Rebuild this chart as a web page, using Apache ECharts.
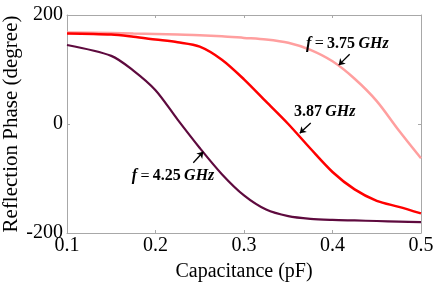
<!DOCTYPE html>
<html>
<head>
<meta charset="utf-8">
<script src="https://cdn.jsdelivr.net/npm/echarts@6/dist/echarts.min.js"></script>
<style>html,body{margin:0;padding:0;background:#fff;}#c{width:436px;height:289px;}</style>
</head>
<body>
<div id="c"></div>
<script>
// capacitance (pF)
var capacitance = [0.1, 0.15, 0.175, 0.2, 0.225, 0.25, 0.275, 0.3, 0.325, 0.35, 0.375, 0.4, 0.425, 0.45, 0.475, 0.5];
// reflection phase (degree)
var phase375 = [168, 167, 166, 165, 164, 163, 161, 158, 155, 149, 136, 115, 83, 42, -12, -63];
var phase387 = [166, 164, 160, 155, 150, 142, 118, 82, 41, 0, -45, -88, -120, -141, -152, -164];
var phase425 = [145, 125, 98, 62, 8, -44, -92, -131, -157, -169, -174, -176, -177, -178, -179, -180];
var xTicks = [0.1, 0.2, 0.3, 0.4, 0.5];
var yTicks = [-200, 0, 200];
// annotations: label position, arrow tail, arrow head (data coords)
var labelPos375 = [0.4168, 147], arrowTail375 = [0.4194, 128], arrowHead375 = [0.407, 108];
var labelPos387 = [0.3912, 23], arrowTail387 = [0.3754, 2], arrowHead387 = [0.363, -17];
var labelPos425 = [0.2198, -96], arrowTail425 = [0.2427, -71], arrowHead425 = [0.254, -51];

function pairs(xs, ys) { return xs.map(function (x, i) { return [x, ys[i]]; }); }

var rich = {
  i: { fontFamily: 'Liberation Serif', fontStyle: 'italic', fontWeight: 'bold', fontSize: 16, color: '#000' },
  n: { fontFamily: 'Liberation Serif', fontWeight: 'bold', fontSize: 16, color: '#000' },
  e: { fontFamily: 'Liberation Serif', fontSize: 16, color: '#000' }
};
function ann(pos, tail, head, text) {
  return {
    markPoint: {
      silent: true, animation: false,
      data: [{ coord: pos, symbol: 'circle', symbolSize: 0,
        label: { show: true, position: 'inside', formatter: text, rich: rich } }]
    },
    markLine: {
      silent: true, animation: false,
      lineStyle: { color: '#000', width: 1.3, type: 'solid' },
      label: { show: false },
      symbolSize: 6,
      data: [[{ coord: tail, symbol: 'none' }, { coord: head, symbol: 'arrow' }]]
    }
  };
}

function mk(name, data, color, width, a) {
  var s = {
    name: name, type: 'line', data: pairs(capacitance, data), showSymbol: false,
    smooth: 0.3,
    lineStyle: { color: color, width: width }, itemStyle: { color: color },
    xAxisIndex: 0, yAxisIndex: 0
  };
  s.markPoint = a.markPoint; s.markLine = a.markLine;
  return s;
}

var axisGray = '#a8a8a8';
var fontF = 'Liberation Serif';
var chart = echarts.init(document.getElementById('c'));
chart.setOption({
  animation: false,
  backgroundColor: '#fff',
  grid: { left: 67, right: 15, top: 15, bottom: 56, outerBoundsMode: 'none', containLabel: false },
  xAxis: [{
    type: 'value', min: 0.1, max: 0.5, interval: 0.1,
    name: 'Capacitance (pF)', nameLocation: 'middle', nameGap: 29, nameMoveOverlap: false,
    nameTextStyle: { fontFamily: fontF, fontSize: 20, color: '#000' },
    axisLine: { show: true, onZero: false, lineStyle: { color: axisGray } },
    axisTick: { show: true, inside: true, length: 3, lineStyle: { color: axisGray } },
    axisLabel: { fontFamily: fontF, fontSize: 20, color: '#000', margin: 3,
      formatter: function (v) { return v.toFixed(1); } },
    splitLine: { show: false }
  }, {
    type: 'value', position: 'top', min: 0.1, max: 0.5, interval: 0.1,
    axisLine: { show: true, onZero: false, lineStyle: { color: axisGray } },
    axisTick: { show: true, inside: true, length: 3, lineStyle: { color: axisGray } },
    axisLabel: { show: false }, splitLine: { show: false }
  }],
  yAxis: [{
    type: 'value', min: -200, max: 200, interval: 200,
    name: 'Reflection Phase (degree)', nameLocation: 'middle', nameGap: 45, nameMoveOverlap: false,
    nameTextStyle: { fontFamily: fontF, fontSize: 21, color: '#000' },
    axisLine: { show: true, onZero: false, lineStyle: { color: axisGray } },
    axisTick: { show: true, inside: true, length: 3, lineStyle: { color: axisGray } },
    axisLabel: { fontFamily: fontF, fontSize: 20, color: '#000', margin: 4 },
    splitLine: { show: false }
  }, {
    type: 'value', position: 'right', min: -200, max: 200, interval: 200,
    axisLine: { show: true, onZero: false, lineStyle: { color: axisGray } },
    axisTick: { show: true, inside: true, length: 3, lineStyle: { color: axisGray } },
    axisLabel: { show: false }, splitLine: { show: false }
  }],
  series: [
    mk('f = 3.75 GHz', phase375, '#ff9f9f', 2.5, ann(labelPos375, arrowTail375, arrowHead375, '{i|f} {e|=} {n|3.75} {i|GHz}')),
    mk('3.87 GHz', phase387, '#ff0000', 2.5, ann(labelPos387, arrowTail387, arrowHead387, '{n|3.87} {i|GHz}')),
    mk('f = 4.25 GHz', phase425, '#5e0a3e', 2.2, ann(labelPos425, arrowTail425, arrowHead425, '{i|f} {e|=} {n|4.25} {i|GHz}'))
  ]
});
</script>
</body>
</html>
